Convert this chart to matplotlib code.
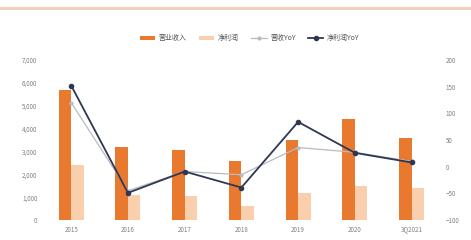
import matplotlib
matplotlib.use("Agg")
import matplotlib.pyplot as plt
from matplotlib.lines import Line2D
import numpy as np

plt.rcParams['font.family'] = ['Noto Sans CJK SC', 'DejaVu Sans']

categories = ["2015", "2016", "2017", "2018", "2019", "2020", "3Q2021"]
revenue = [5700, 3200, 3050, 2600, 3500, 4400, 3600]
net_profit = [2400, 1100, 1050, 600, 1200, 1500, 1400]
revenue_yoy = [120, -45, -9, -15, 36, 27, 10]
np_yoy = [152, -49, -9, -39, 84, 26, 8]
left_ticks = [0, 1000, 2000, 3000, 4000, 5000, 6000, 7000]
right_ticks = [-100, -50, 0, 50, 100, 150, 200]

c_rev = "#E8792F"
c_np = "#F9CFAE"
c_ryoy = "#B9BBC4"
c_nyoy = "#2F3853"
c_txt = "#808080"

fig = plt.figure(figsize=(4.71, 2.40), dpi=100)
ax = fig.add_axes([0.091, 0.083, 0.843, 0.667])
ax2 = ax.twinx()

x = np.arange(len(categories))
w = 0.22
ax.bar(x - w / 2, revenue, width=w, color=c_rev, label="营业收入", zorder=2)
ax.bar(x + w / 2, net_profit, width=w, color=c_np, label="净利润", zorder=2)
ax.set_ylim(0, 7000)
ax.set_yticks(left_ticks)
ax.set_yticklabels([f"{v:,}" for v in left_ticks])
ax.set_xlim(-0.5, len(categories) - 0.5)
ax.set_xticks(x)
ax.set_xticklabels(categories)

ax2.plot(x, revenue_yoy, color=c_ryoy, lw=0.9, marker="o", ms=2, label="营收YoY", zorder=3)
ax2.plot(x, np_yoy, color=c_nyoy, lw=1.3, marker="o", ms=3, label="净利润YoY", zorder=4)
ax2.set_ylim(-100, 200)
ax2.set_yticks(right_ticks)

for a in (ax, ax2):
    for s in a.spines.values():
        s.set_visible(False)
    a.tick_params(length=0, labelsize=4.5, labelcolor=c_txt, pad=4)

h1, l1 = ax.get_legend_handles_labels()
h2, l2 = ax2.get_legend_handles_labels()
leg = fig.legend(h1 + h2, l1 + l2, loc="center", bbox_to_anchor=(0.53, 0.84), ncol=4,
                 frameon=False, fontsize=5, handlelength=2.2, columnspacing=1.8,
                 handletextpad=0.5)
for t in leg.get_texts():
    t.set_color("#555555")

fig.add_artist(Line2D([0, 1], [0.965, 0.965], color="#F3CDB8", lw=2, transform=fig.transFigure))

fig.savefig("out.png", dpi=100, facecolor="white")
